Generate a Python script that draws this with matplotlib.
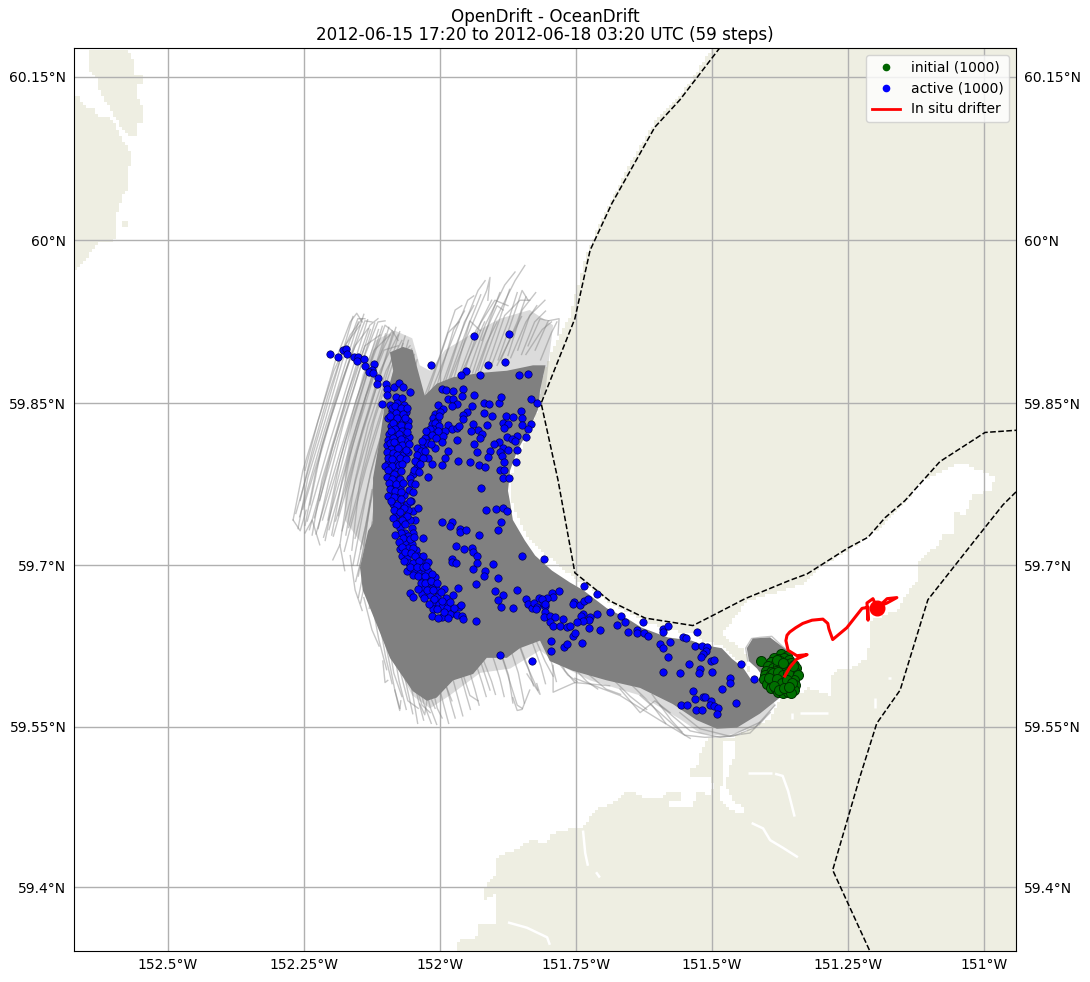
import numpy as np
import matplotlib
matplotlib.use("Agg")
import matplotlib.pyplot as plt
from matplotlib.colors import ListedColormap
from matplotlib.lines import Line2D
from matplotlib.path import Path

# Limits and ticks
lon_limits = (-152.6728, -150.941)
lat_limits = (59.3402, 60.1765)
lon_ticks = [-152.5, -152.25, -152.0, -151.75, -151.5, -151.25, -151.0]
lon_labels = ["152.5°W", "152.25°W", "152°W", "151.75°W", "151.5°W", "151.25°W", "151°W"]
lat_ticks = [59.4, 59.55, 59.7, 59.85, 60.0, 60.15]
lat_labels = ["59.4°N", "59.55°N", "59.7°N", "59.85°N", "60°N", "60.15°N"]

# Land outlines (lon, lat)
land_main = [(-151.482,60.19),(-150.93,60.19),(-150.93,59.33),(-151.971,59.33),(-151.971,59.344),(-151.963,59.352),(-151.932,59.353),(-151.928,59.364),(-151.895,59.366),(-151.895,59.376),(-151.899,59.394),(-151.921,59.387),(-151.921,59.395),(-151.908,59.407),(-151.895,59.411),(-151.895,59.427),(-151.875,59.432),(-151.853,59.437),(-151.835,59.444),(-151.803,59.441),(-151.798,59.449),(-151.756,59.455),(-151.737,59.456),(-151.715,59.472),(-151.691,59.477),(-151.669,59.483),(-151.656,59.489),(-151.640,59.489),(-151.627,59.483),(-151.590,59.483),(-151.581,59.489),(-151.559,59.489),(-151.557,59.479),(-151.577,59.479),(-151.577,59.474),(-151.535,59.474),(-151.528,59.489),(-151.500,59.486),(-151.498,59.493),(-151.500,59.503),(-151.540,59.503),(-151.540,59.510),(-151.522,59.514),(-151.522,59.525),(-151.504,59.540),(-151.458,59.540),(-151.430,59.548),(-151.393,59.556),(-151.381,59.568),(-151.375,59.574),(-151.362,59.577),(-151.344,59.581),(-151.329,59.582),(-151.325,59.586),(-151.283,59.579),(-151.281,59.597),(-151.270,59.602),(-151.241,59.605),(-151.215,59.614),(-151.210,59.630),(-151.210,59.649),(-151.158,59.658),(-151.145,59.672),(-151.123,59.686),(-151.121,59.702),(-151.105,59.711),(-151.085,59.719),(-151.077,59.730),(-151.057,59.730),(-151.057,59.751),(-151.039,59.745),(-151.030,59.754),(-151.020,59.765),(-150.984,59.769),(-150.980,59.781),(-151.007,59.788),(-151.044,59.795),(-151.068,59.790),(-151.118,59.776),(-151.142,59.760),(-151.197,59.733),(-151.250,59.714),(-151.302,59.698),(-151.333,59.683),(-151.436,59.666),(-151.458,59.651),(-151.480,59.637),(-151.476,59.633),(-151.439,59.621),(-151.434,59.607),(-151.425,59.595),(-151.443,59.609),(-151.463,59.616),(-151.482,59.625),(-151.517,59.630),(-151.535,59.637),(-151.577,59.639),(-151.627,59.649),(-151.651,59.655),(-151.688,59.665),(-151.724,59.678),(-151.737,59.682),(-151.770,59.695),(-151.798,59.707),(-151.835,59.723),(-151.857,59.743),(-151.868,59.760),(-151.871,59.769),(-151.866,59.788),(-151.853,59.806),(-151.835,59.825),(-151.822,59.844),(-151.811,59.878),(-151.789,59.904),(-151.761,59.931),(-151.733,59.986),(-151.700,60.023),(-151.647,60.073),(-151.610,60.105),(-151.544,60.142)]
land_island = [(-152.649,60.175),(-152.575,60.175),(-152.564,60.166),(-152.561,60.152),(-152.544,60.152),(-152.544,60.144),(-152.555,60.144),(-152.555,60.129),(-152.548,60.122),(-152.548,60.108),(-152.555,60.106),(-152.555,60.095),(-152.566,60.095),(-152.583,60.103),(-152.597,60.112),(-152.607,60.122),(-152.619,60.131),(-152.630,60.144),(-152.630,60.149),(-152.643,60.156),(-152.643,60.172)]
land_west = [(-152.68,60.135),(-152.664,60.133),(-152.656,60.123),(-152.634,60.122),(-152.630,60.114),(-152.603,60.111),(-152.588,60.098),(-152.586,60.090),(-152.575,60.089),(-152.568,60.076),(-152.568,60.069),(-152.573,60.067),(-152.573,60.048),(-152.586,60.040),(-152.588,60.032),(-152.594,60.026),(-152.594,60.011),(-152.597,60.003),(-152.601,59.999),(-152.616,59.999),(-152.630,59.998),(-152.634,59.993),(-152.649,59.985),(-152.662,59.977),(-152.671,59.973),(-152.68,59.973)]
land_islet = [(-152.586,60.019),(-152.573,60.019),(-152.573,60.011),(-152.586,60.011)]
water_channel = [(-151.482,59.537),(-151.458,59.537),(-151.458,59.523),(-151.469,59.511),(-151.474,59.493),(-151.461,59.481),(-151.439,59.472),(-151.443,59.468),(-151.467,59.472),(-151.485,59.483),(-151.482,59.495),(-151.480,59.511),(-151.482,59.523)]

# Small rivers and inlets cut through the land
rivers = [
    [(-151.434,59.507),(-151.390,59.507)],
    [(-151.384,59.506),(-151.370,59.504),(-151.360,59.490),(-151.348,59.466)],
    [(-151.427,59.460),(-151.406,59.455),(-151.393,59.444),(-151.370,59.437),(-151.342,59.428)],
    [(-151.737,59.453),(-151.733,59.432),(-151.728,59.420)],
    [(-151.713,59.414),(-151.706,59.409)],
    [(-151.875,59.367),(-151.840,59.362),(-151.803,59.353),(-151.798,59.346)],
    [(-151.338,59.563),(-151.287,59.563)],
    [(-151.353,59.563),(-151.353,59.557)],
    [(-151.200,59.577),(-151.200,59.567)],
    [(-151.177,59.595),(-151.170,59.595)],
]

# Dashed coastline
shore_1 = [(-151.485,60.177),(-151.559,60.129),(-151.605,60.104),(-151.684,60.034),(-151.724,59.991),(-151.752,59.928),(-151.814,59.850),(-151.783,59.779),(-151.752,59.693),(-151.688,59.667),(-151.623,59.651),(-151.535,59.644),(-151.500,59.653),(-151.439,59.669),(-151.357,59.686),(-151.325,59.692),(-151.250,59.716),(-151.213,59.726),(-151.182,59.744),(-151.145,59.760),(-151.081,59.796),(-150.998,59.823),(-150.941,59.825)]
shore_2 = [(-150.941,59.768),(-150.965,59.756),(-151.017,59.723),(-151.103,59.668),(-151.154,59.584),(-151.197,59.553),(-151.228,59.503),(-151.278,59.416),(-151.206,59.336)]

# Outline of the area where the tracks merge into solid grey, and the thinner fringe
tracks_dense = [(-152.123,59.739),(-152.123,59.781),(-152.110,59.819),(-152.101,59.850),(-152.086,59.880),(-152.092,59.897),(-152.068,59.902),(-152.050,59.899),(-152.042,59.883),(-152.028,59.857),(-152.006,59.868),(-151.976,59.874),(-151.926,59.878),(-151.877,59.880),(-151.829,59.885),(-151.806,59.885),(-151.816,59.862),(-151.820,59.844),(-151.835,59.827),(-151.858,59.806),(-151.871,59.788),(-151.875,59.769),(-151.871,59.758),(-151.866,59.742),(-151.844,59.723),(-151.825,59.709),(-151.794,59.695),(-151.761,59.684),(-151.737,59.677),(-151.693,59.660),(-151.654,59.650),(-151.629,59.642),(-151.581,59.633),(-151.537,59.630),(-151.517,59.626),(-151.482,59.623),(-151.463,59.613),(-151.443,59.605),(-151.427,59.593),(-151.404,59.595),(-151.417,59.604),(-151.432,59.611),(-151.436,59.623),(-151.425,59.632),(-151.393,59.633),(-151.362,59.621),(-151.344,59.611),(-151.348,59.593),(-151.375,59.577),(-151.412,59.562),(-151.454,59.549),(-151.491,59.548),(-151.528,59.556),(-151.572,59.571),(-151.632,59.586),(-151.693,59.593),(-151.756,59.602),(-151.798,59.611),(-151.816,59.630),(-151.853,59.623),(-151.877,59.614),(-151.914,59.614),(-151.939,59.599),(-151.976,59.593),(-152.006,59.577),(-152.024,59.574),(-152.050,59.583),(-152.092,59.614),(-152.110,59.637),(-152.142,59.677),(-152.147,59.698),(-152.132,59.732)]
tracks_fringe = [(-152.175,59.742),(-152.175,59.788),(-152.162,59.834),(-152.143,59.876),(-152.119,59.908),(-152.083,59.917),(-152.051,59.910),(-152.037,59.885),(-152.018,59.880),(-151.991,59.899),(-151.945,59.913),(-151.890,59.928),(-151.835,59.936),(-151.792,59.922),(-151.798,59.897),(-151.807,59.857),(-151.926,59.806),(-152.074,59.667),(-152.114,59.658),(-152.088,59.616),(-152.051,59.579),(-152.018,59.567),(-151.982,59.579),(-151.926,59.600),(-151.871,59.604),(-151.816,59.621),(-151.779,59.607),(-151.724,59.593),(-151.632,59.579),(-151.559,59.557),(-151.522,59.544),(-151.476,59.541),(-151.412,59.551),(-151.384,59.570),(-151.393,59.583),(-151.890,59.667),(-152.123,59.705)]

# Individual tracks that stand out from the solid area
tracks_nw = [
    [(-152.270,59.742),(-152.252,59.788),(-152.221,59.839),(-152.193,59.888),(-152.165,59.925),(-152.153,59.933),(-152.143,59.925)],
    [(-152.261,59.734),(-152.243,59.781),(-152.211,59.834),(-152.180,59.888),(-152.151,59.928),(-152.138,59.928)],
    [(-152.248,59.737),(-152.228,59.788),(-152.199,59.839),(-152.165,59.891),(-152.138,59.926),(-152.125,59.925)],
    [(-152.235,59.728),(-152.217,59.779),(-152.187,59.830),(-152.154,59.885),(-152.129,59.922),(-152.114,59.928)],
    [(-152.224,59.734),(-152.202,59.783),(-152.175,59.836),(-152.143,59.888),(-152.114,59.925),(-152.101,59.926)],
    [(-152.211,59.723),(-152.193,59.769),(-152.165,59.825),(-152.132,59.880),(-152.101,59.922),(-152.088,59.917)],
    [(-152.199,59.728),(-152.180,59.779),(-152.153,59.830),(-152.119,59.885),(-152.088,59.917),(-152.077,59.908)],
    [(-152.184,59.719),(-152.169,59.769),(-152.143,59.825),(-152.110,59.880),(-152.077,59.913)],
    [(-152.173,59.728),(-152.156,59.779),(-152.132,59.830),(-152.099,59.880),(-152.070,59.908)],
    [(-152.162,59.714),(-152.147,59.779),(-152.121,59.834),(-152.088,59.885),(-152.055,59.903)],
    [(-152.257,59.760),(-152.235,59.806),(-152.206,59.857),(-152.175,59.903),(-152.147,59.922)],
    [(-152.239,59.756),(-152.217,59.811),(-152.187,59.862),(-152.156,59.903),(-152.132,59.919)],
    [(-152.221,59.760),(-152.199,59.806),(-152.169,59.860),(-152.138,59.903),(-152.110,59.913)],
    [(-152.248,59.788),(-152.224,59.834),(-152.195,59.880),(-152.165,59.913),(-152.143,59.928)],
    [(-152.206,59.742),(-152.184,59.797),(-152.154,59.853),(-152.121,59.899),(-152.092,59.913)],
    [(-152.187,59.746),(-152.165,59.802),(-152.136,59.857),(-152.103,59.899),(-152.077,59.903)],
    [(-152.270,59.742),(-152.257,59.732),(-152.246,59.751)],
    [(-152.248,59.730),(-152.235,59.742),(-152.221,59.719)],
    [(-152.197,59.705),(-152.184,59.719),(-152.175,59.695)],
    [(-152.165,59.709),(-152.156,59.677),(-152.143,59.658)],
    [(-152.265,59.748),(-152.225,59.818),(-152.160,59.930)],
    [(-152.258,59.745),(-152.214,59.822),(-152.150,59.925)],
    [(-152.252,59.752),(-152.208,59.825),(-152.140,59.932)],
    [(-152.244,59.741),(-152.202,59.815),(-152.133,59.927)],
    [(-152.240,59.733),(-152.196,59.812),(-152.128,59.918)],
    [(-152.231,59.744),(-152.188,59.818),(-152.120,59.924)],
    [(-152.228,59.729),(-152.182,59.808),(-152.113,59.918)],
    [(-152.216,59.742),(-152.172,59.818),(-152.106,59.921)],
    [(-152.214,59.726),(-152.168,59.806),(-152.100,59.914)],
    [(-152.204,59.733),(-152.160,59.812),(-152.094,59.920)],
    [(-152.196,59.727),(-152.152,59.806),(-152.086,59.916)],
    [(-152.192,59.741),(-152.149,59.815),(-152.081,59.920)],
    [(-152.180,59.732),(-152.140,59.806),(-152.074,59.916)],
    [(-152.176,59.713),(-152.136,59.790),(-152.068,59.905)],
    [(-152.168,59.735),(-152.128,59.810),(-152.064,59.912)],
    [(-152.160,59.700),(-152.128,59.785),(-152.062,59.900)],
    [(-152.156,59.725),(-152.120,59.800),(-152.058,59.908)],
    [(-152.150,59.690),(-152.122,59.775),(-152.055,59.892)],
    [(-152.146,59.715),(-152.114,59.790),(-152.052,59.900)],
    [(-152.140,59.680),(-152.118,59.765),(-152.050,59.885)],
    [(-152.136,59.700),(-152.108,59.782),(-152.047,59.895)],
    [(-152.130,59.660),(-152.112,59.750),(-152.045,59.878)],
    [(-152.124,59.690),(-152.104,59.775),(-152.042,59.890)],
    [(-152.128,59.760),(-152.140,59.715),(-152.155,59.685)],
    [(-152.124,59.740),(-152.138,59.700),(-152.150,59.670)],
    [(-152.120,59.725),(-152.135,59.690),(-152.146,59.665)],
    [(-152.125,59.770),(-152.137,59.735),(-152.152,59.700)],
]
tracks_north = [
    [(-152.028,59.857),(-152.000,59.894),(-151.972,59.936),(-151.960,59.940)],
    [(-152.015,59.862),(-151.982,59.903),(-151.949,59.945),(-151.938,59.949)],
    [(-151.996,59.867),(-151.967,59.908),(-151.930,59.954),(-151.917,59.963)],
    [(-151.982,59.871),(-151.949,59.913),(-151.914,59.954),(-151.908,59.966),(-151.912,59.945)],
    [(-151.967,59.873),(-151.934,59.917),(-151.899,59.945),(-151.875,59.940)],
    [(-151.949,59.876),(-151.917,59.922),(-151.881,59.959),(-151.862,59.971)],
    [(-151.930,59.880),(-151.899,59.926),(-151.862,59.963),(-151.844,59.977)],
    [(-151.912,59.885),(-151.881,59.931),(-151.853,59.945),(-151.835,59.945)],
    [(-151.893,59.890),(-151.868,59.926),(-151.849,59.954),(-151.838,59.945)],
    [(-151.875,59.894),(-151.849,59.936),(-151.824,59.952)],
    [(-151.857,59.899),(-151.835,59.931),(-151.807,59.945)],
    [(-151.838,59.903),(-151.816,59.928),(-151.800,59.926)],
    [(-151.825,59.899),(-151.801,59.926),(-151.781,59.928),(-151.783,59.913)],
    [(-151.991,59.862),(-151.945,59.926),(-151.926,59.917)],
    [(-151.923,59.908),(-151.895,59.940),(-151.884,59.936)],
    [(-152.022,59.860),(-151.985,59.915),(-151.965,59.925)],
    [(-152.008,59.862),(-151.975,59.918),(-151.955,59.935)],
    [(-151.990,59.870),(-151.955,59.925),(-151.938,59.940)],
    [(-151.975,59.872),(-151.945,59.925),(-151.925,59.950)],
    [(-151.958,59.875),(-151.925,59.925),(-151.905,59.945)],
    [(-151.940,59.878),(-151.908,59.928),(-151.890,59.952)],
    [(-151.925,59.880),(-151.892,59.925),(-151.872,59.955)],
    [(-151.905,59.885),(-151.875,59.925),(-151.858,59.952)],
    [(-151.888,59.890),(-151.858,59.925),(-151.842,59.948)],
    [(-151.870,59.892),(-151.842,59.925),(-151.822,59.940)],
    [(-151.850,59.895),(-151.826,59.925),(-151.806,59.935)],
    [(-151.842,59.895),(-151.812,59.918),(-151.795,59.925)],
    [(-151.815,59.890),(-151.795,59.915),(-151.785,59.925)],
    [(-151.965,59.873),(-151.940,59.900),(-151.918,59.925)],
    [(-151.935,59.878),(-151.915,59.905),(-151.895,59.925)],
    [(-151.895,59.885),(-151.870,59.910),(-151.850,59.930)],
]
tracks_south = [
    [(-152.123,59.677),(-152.101,59.630),(-152.083,59.584),(-152.074,59.567)],
    [(-152.101,59.667),(-152.083,59.621),(-152.059,59.574),(-152.040,59.567)],
    [(-152.083,59.658),(-152.059,59.611),(-152.033,59.570),(-152.018,59.563)],
    [(-152.055,59.649),(-152.037,59.602),(-152.009,59.567)],
    [(-152.018,59.649),(-152.000,59.602),(-151.978,59.574)],
    [(-151.982,59.649),(-151.963,59.607),(-151.945,59.579),(-151.930,59.574)],
    [(-151.945,59.649),(-151.923,59.607),(-151.908,59.584)],
    [(-151.908,59.649),(-151.881,59.607),(-151.858,59.570),(-151.849,59.567)],
    [(-151.871,59.649),(-151.844,59.611),(-151.820,59.584)],
    [(-151.835,59.644),(-151.807,59.611),(-151.792,59.597)],
    [(-151.798,59.630),(-151.770,59.602),(-151.752,59.591)],
    [(-151.792,59.607),(-151.792,59.582),(-151.752,59.591),(-151.688,59.588)],
    [(-151.669,59.585),(-151.632,59.563),(-151.605,59.574),(-151.577,59.563)],
    [(-151.632,59.579),(-151.596,59.563),(-151.550,59.542),(-151.513,59.540),(-151.461,59.541),(-151.421,59.549),(-151.384,59.570)],
    [(-151.596,59.570),(-151.540,59.546),(-151.485,59.540),(-151.430,59.544),(-151.393,59.563)],
    [(-151.559,59.563),(-151.522,59.548),(-151.467,59.541),(-151.412,59.554)],
    [(-151.752,59.595),(-151.669,59.579),(-151.596,59.556),(-151.540,59.539)],
    [(-152.105,59.611),(-152.101,59.591),(-152.096,59.593)],
    [(-152.083,59.584),(-152.074,59.565),(-152.072,59.574)],
    [(-152.037,59.571),(-152.028,59.561),(-152.024,59.574)],
    [(-151.866,59.577),(-151.858,59.565),(-151.849,59.566),(-151.835,59.584)],
    [(-151.840,59.599),(-151.816,59.580),(-151.822,59.590)],
    [(-151.434,59.611),(-151.438,59.623),(-151.427,59.632),(-151.412,59.633),(-151.390,59.634),(-151.371,59.625),(-151.357,59.619)],
    [(-151.430,59.616),(-151.421,59.629),(-151.397,59.630),(-151.366,59.621)],
    [(-152.140,59.670),(-152.125,59.640),(-152.112,59.625)],
    [(-152.125,59.665),(-152.112,59.630),(-152.098,59.603)],
    [(-152.112,59.650),(-152.100,59.615),(-152.088,59.590)],
    [(-152.098,59.640),(-152.085,59.600),(-152.070,59.578)],
    [(-152.088,59.630),(-152.075,59.592),(-152.062,59.566)],
    [(-152.075,59.620),(-152.060,59.585),(-152.050,59.562)],
    [(-152.065,59.615),(-152.050,59.580),(-152.041,59.553)],
    [(-152.055,59.610),(-152.040,59.575),(-152.030,59.556)],
    [(-152.045,59.605),(-152.030,59.572),(-152.016,59.553)],
    [(-152.033,59.600),(-152.018,59.568),(-152.006,59.552)],
    [(-152.020,59.600),(-152.005,59.567),(-151.996,59.558)],
    [(-152.008,59.600),(-151.993,59.570),(-151.984,59.553)],
    [(-151.995,59.600),(-151.980,59.572),(-151.972,59.558)],
    [(-151.982,59.605),(-151.966,59.575),(-151.958,59.560)],
    [(-151.968,59.610),(-151.952,59.580),(-151.944,59.566)],
    [(-151.952,59.612),(-151.936,59.585),(-151.928,59.570)],
    [(-151.938,59.615),(-151.922,59.590),(-151.915,59.578)],
    [(-151.924,59.617),(-151.905,59.592),(-151.898,59.580)],
    [(-151.906,59.620),(-151.890,59.595),(-151.882,59.578)],
    [(-151.890,59.622),(-151.874,59.598),(-151.866,59.572)],
    [(-151.872,59.625),(-151.856,59.600),(-151.845,59.572)],
    [(-151.855,59.628),(-151.838,59.605),(-151.828,59.588)],
    [(-151.835,59.635),(-151.815,59.607),(-151.806,59.590)],
    [(-151.818,59.638),(-151.795,59.610),(-151.786,59.592)],
    [(-151.790,59.615),(-151.765,59.598),(-151.748,59.592)],
    [(-151.760,59.608),(-151.730,59.592),(-151.710,59.585)],
    [(-151.730,59.600),(-151.695,59.585),(-151.668,59.580)],
    [(-151.690,59.598),(-151.650,59.578),(-151.620,59.566)],
    [(-151.650,59.590),(-151.610,59.570),(-151.585,59.553)],
    [(-151.610,59.580),(-151.575,59.556),(-151.555,59.545)],
]

# Final positions
active_string = [(-152.202,59.895),(-152.187,59.893),(-152.178,59.899),(-152.173,59.900),(-152.171,59.895),(-152.158,59.893),(-152.151,59.893),(-152.153,59.889),(-152.140,59.891),(-152.138,59.884),(-152.121,59.886),(-152.125,59.881),(-152.131,59.879),(-152.123,59.878),(-152.114,59.873),(-152.116,59.868),(-152.099,59.868),(-152.097,59.863),(-152.097,59.858),(-152.085,59.865),(-152.075,59.869),(-152.068,59.865),(-152.055,59.860),(-152.107,59.849),(-152.081,59.856),(-152.070,59.855)]
active_north = [(-151.938,59.912),(-151.873,59.914),(-152.017,59.885),(-151.912,59.885),(-151.881,59.888),(-151.952,59.880),(-151.961,59.876),(-151.926,59.876),(-151.855,59.876),(-151.838,59.877),(-151.996,59.863),(-151.989,59.862),(-151.976,59.861),(-151.958,59.863),(-151.960,59.857),(-151.938,59.858),(-151.985,59.854),(-151.976,59.854),(-151.969,59.849),(-151.978,59.847),(-152.004,59.848),(-151.995,59.845),(-151.941,59.847),(-151.919,59.850),(-151.910,59.849),(-151.892,59.850),(-151.888,59.856),(-151.833,59.854),(-151.822,59.850),(-151.851,59.843),(-151.849,59.836),(-151.919,59.841),(-151.904,59.838),(-151.879,59.838),(-151.866,59.837),(-151.950,59.842),(-151.958,59.839),(-151.958,59.835),(-151.884,59.832),(-151.875,59.831),(-151.883,59.827),(-151.849,59.830),(-151.833,59.831),(-151.838,59.826),(-151.914,59.830),(-151.939,59.831),(-151.930,59.825),(-151.923,59.822),(-151.943,59.824),(-151.926,59.818),(-151.858,59.820),(-151.842,59.819),(-151.877,59.819),(-151.868,59.817),(-151.862,59.815),(-151.892,59.814),(-151.901,59.812),(-151.884,59.809),(-151.875,59.807),(-151.858,59.807),(-151.908,59.806),(-151.890,59.805),(-151.886,59.801),(-151.912,59.800),(-151.883,59.796),(-151.860,59.796),(-151.938,59.812),(-151.932,59.805),(-151.945,59.796),(-151.928,59.793),(-151.917,59.791),(-151.967,59.797),(-151.969,59.816),(-151.890,59.788),(-151.882,59.788),(-151.884,59.781),(-151.873,59.781),(-151.925,59.772),(-151.915,59.751),(-151.897,59.752),(-151.884,59.753),(-151.877,59.750),(-151.888,59.740),(-151.893,59.733),(-151.928,59.728),(-151.996,59.740),(-151.978,59.740),(-151.982,59.736),(-151.963,59.734),(-151.963,59.731),(-151.952,59.733)]
active_branch = [(-152.009,59.840),(-152.000,59.842),(-152.013,59.836),(-152.006,59.834),(-152.015,59.831),(-152.006,59.829),(-151.985,59.830),(-151.978,59.826),(-151.969,59.827),(-151.965,59.829),(-151.991,59.824),(-151.995,59.820),(-151.996,59.814),(-152.022,59.820),(-152.028,59.818),(-152.031,59.811),(-152.042,59.809),(-152.009,59.809),(-151.985,59.806),(-151.991,59.799),(-151.996,59.793),(-152.033,59.805),(-152.037,59.800),(-152.022,59.799),(-152.015,59.794),(-152.040,59.795),(-152.042,59.791),(-152.022,59.782),(-152.050,59.785),(-152.055,59.781),(-152.002,59.838),(-152.010,59.832),(-152.001,59.829),(-152.012,59.826),(-152.019,59.826),(-152.003,59.824),(-152.026,59.824),(-152.015,59.821),(-152.008,59.818),(-152.024,59.813),(-152.017,59.812),(-152.033,59.815),(-152.035,59.806),(-152.028,59.806),(-152.042,59.802),(-152.031,59.799),(-152.046,59.797),(-152.036,59.794),(-152.047,59.788),(-152.038,59.786),(-152.053,59.776),(-152.045,59.775),(-152.057,59.770),(-152.049,59.768),(-152.053,59.760),(-152.049,59.750),(-152.046,59.742)]
active_column = [(-152.092,59.848),(-152.079,59.850),(-152.066,59.848),(-152.088,59.843),(-152.074,59.842),(-152.062,59.842),(-152.096,59.836),(-152.085,59.834),(-152.070,59.835),(-152.059,59.834),(-152.090,59.829),(-152.077,59.828),(-152.064,59.827),(-152.094,59.822),(-152.081,59.820),(-152.068,59.821),(-152.057,59.819),(-152.096,59.816),(-152.077,59.814),(-152.064,59.815),(-152.097,59.811),(-152.083,59.808),(-152.074,59.805),(-152.092,59.802),(-152.096,59.795),(-152.081,59.797),(-152.068,59.802),(-152.083,59.790),(-152.092,59.786),(-152.079,59.781),(-152.086,59.775),(-152.074,59.772),(-152.088,59.768),(-152.077,59.763),(-152.066,59.765),(-152.059,59.805),(-152.086,59.757),(-152.074,59.756),(-152.061,59.757),(-152.055,59.760),(-152.081,59.747),(-152.066,59.745),(-152.059,59.751),(-152.040,59.753),(-152.077,59.739),(-152.074,59.735),(-152.055,59.742),(-152.051,59.735),(-152.064,59.730),(-152.050,59.730),(-152.031,59.725),(-152.064,59.721),(-152.051,59.720),(-152.059,59.716),(-152.044,59.714),(-152.074,59.715),(-152.070,59.709),(-152.061,59.707),(-152.057,59.702),(-152.061,59.695),(-152.040,59.709),(-152.031,59.709),(-152.042,59.705),(-152.033,59.702),(-152.022,59.703),(-152.046,59.695),(-152.037,59.693),(-152.028,59.694),(-152.022,59.695),(-152.033,59.688),(-152.022,59.688),(-152.009,59.689),(-152.024,59.681),(-152.011,59.683),(-152.031,59.679),(-152.017,59.678),(-152.006,59.677),(-151.993,59.678),(-152.055,59.674),(-152.050,59.671),(-152.033,59.673),(-152.018,59.672),(-152.006,59.671),(-151.989,59.670),(-151.976,59.672),(-152.013,59.666),(-152.002,59.664),(-151.989,59.664),(-152.013,59.659),(-151.996,59.661),(-151.987,59.660),(-151.978,59.656),(-151.996,59.652),(-151.982,59.655),(-151.969,59.654),(-151.960,59.653),(-151.958,59.650),(-151.934,59.648),(-151.965,59.661),(-151.961,59.663),(-151.967,59.679)]
active_column_2 = [(-152.089,59.846),(-152.083,59.847),(-152.072,59.846),(-152.060,59.846),(-152.081,59.841),(-152.068,59.840),(-152.092,59.838),(-152.079,59.836),(-152.064,59.836),(-152.087,59.832),(-152.072,59.830),(-152.058,59.829),(-152.083,59.826),(-152.070,59.824),(-152.090,59.824),(-152.076,59.822),(-152.061,59.823),(-152.087,59.818),(-152.072,59.817),(-152.092,59.813),(-152.085,59.814),(-152.070,59.811),(-152.057,59.812),(-152.090,59.808),(-152.077,59.809),(-152.063,59.807),(-152.098,59.805),(-152.086,59.804),(-152.079,59.802),(-152.095,59.799),(-152.088,59.798),(-152.074,59.799),(-152.062,59.798),(-152.101,59.792),(-152.089,59.792),(-152.076,59.793),(-152.069,59.794),(-152.096,59.788),(-152.084,59.785),(-152.072,59.787),(-152.098,59.782),(-152.088,59.780),(-152.074,59.780),(-152.094,59.776),(-152.080,59.775),(-152.068,59.776),(-152.092,59.771),(-152.082,59.769),(-152.071,59.768),(-152.095,59.764),(-152.084,59.763),(-152.072,59.761),(-152.090,59.760),(-152.079,59.756),(-152.067,59.753),(-152.085,59.751),(-152.073,59.749),(-152.060,59.746),(-152.087,59.744),(-152.070,59.742),(-152.080,59.738),(-152.064,59.738),(-152.072,59.730),(-152.082,59.728),(-152.058,59.727),(-152.068,59.725),(-152.075,59.722),(-152.056,59.724),(-152.047,59.726),(-152.069,59.717),(-152.050,59.716),(-152.064,59.712),(-152.054,59.711),(-152.046,59.709),(-152.066,59.704),(-152.050,59.702),(-152.038,59.704),(-152.055,59.698),(-152.042,59.698),(-152.032,59.698),(-152.025,59.699),(-152.050,59.691),(-152.040,59.690),(-152.028,59.690),(-152.015,59.692),(-152.035,59.684),(-152.027,59.684),(-152.017,59.685),(-152.005,59.684),(-152.040,59.678),(-152.024,59.677),(-152.012,59.677),(-151.998,59.675),(-152.030,59.670),(-152.011,59.669),(-151.996,59.667),(-151.982,59.666),(-152.020,59.664),(-152.006,59.659),(-151.992,59.657),(-152.015,59.653),(-152.003,59.651),(-151.975,59.660),(-151.985,59.651)]
active_middle = [(-151.842,59.669),(-151.838,59.664),(-151.831,59.660),(-151.827,59.665),(-151.822,59.661),(-151.824,59.659),(-151.818,59.670),(-151.811,59.665),(-151.805,59.669),(-151.807,59.662),(-151.794,59.674),(-151.792,59.671),(-151.781,59.676),(-151.807,59.657),(-151.809,59.652),(-151.798,59.653),(-151.789,59.652),(-151.774,59.650),(-151.798,59.647),(-151.792,59.644),(-151.779,59.644),(-151.767,59.643),(-151.971,59.718),(-151.956,59.715),(-151.941,59.716),(-151.939,59.712),(-151.932,59.709),(-151.932,59.702),(-151.939,59.697),(-151.917,59.695),(-151.903,59.701),(-151.849,59.709),(-151.809,59.706),(-151.978,59.706),(-151.978,59.703),(-151.971,59.702),(-151.919,59.690),(-151.893,59.688),(-151.934,59.683),(-151.899,59.676),(-151.858,59.677),(-151.884,59.672),(-151.893,59.668),(-151.888,59.661),(-151.866,59.660),(-151.890,59.617),(-151.831,59.611),(-151.796,59.630),(-151.796,59.620),(-151.772,59.624),(-151.767,59.627)]
active_east = [(-151.735,59.681),(-151.711,59.673),(-151.803,59.670),(-151.813,59.669),(-151.807,59.664),(-151.754,59.666),(-151.756,59.664),(-151.743,59.663),(-151.735,59.667),(-151.728,59.669),(-151.688,59.657),(-151.667,59.653),(-151.737,59.655),(-151.741,59.653),(-151.711,59.655),(-151.724,59.652),(-151.726,59.649),(-151.737,59.648),(-151.748,59.647),(-151.761,59.644),(-151.706,59.640),(-151.726,59.642),(-151.675,59.645),(-151.660,59.647),(-151.627,59.647),(-151.654,59.638),(-151.638,59.640),(-151.638,59.637),(-151.625,59.637),(-151.618,59.634),(-151.590,59.641),(-151.581,59.644),(-151.590,59.638),(-151.528,59.638),(-151.553,59.633),(-151.548,59.632),(-151.577,59.629),(-151.596,59.627),(-151.590,59.623),(-151.581,59.615),(-151.531,59.625),(-151.518,59.625),(-151.509,59.624),(-151.511,59.620),(-151.517,59.618),(-151.520,59.615),(-151.502,59.611),(-151.496,59.612),(-151.542,59.608),(-151.447,59.608),(-151.590,59.601),(-151.559,59.600),(-151.522,59.604),(-151.524,59.600),(-151.500,59.601),(-151.423,59.594),(-151.467,59.595),(-151.467,59.591),(-151.482,59.585),(-151.535,59.583),(-151.531,59.576),(-151.517,59.578),(-151.513,59.578),(-151.502,59.574),(-151.504,59.570),(-151.496,59.569),(-151.489,59.567),(-151.491,59.562),(-151.456,59.572),(-151.557,59.570),(-151.546,59.570),(-151.529,59.565),(-151.518,59.565),(-151.756,59.634),(-151.752,59.637),(-151.739,59.628)]

# Seeding positions
initial = [(-151.410,59.611),(-151.373,59.618),(-151.362,59.616),(-151.386,59.614),(-151.377,59.613),(-151.367,59.614),(-151.358,59.612),(-151.392,59.610),(-151.383,59.609),(-151.374,59.611),(-151.365,59.608),(-151.355,59.609),(-151.349,59.607),(-151.397,59.606),(-151.388,59.605),(-151.379,59.606),(-151.370,59.604),(-151.361,59.605),(-151.352,59.603),(-151.345,59.605),(-151.400,59.602),(-151.391,59.601),(-151.382,59.602),(-151.373,59.600),(-151.364,59.601),(-151.355,59.599),(-151.347,59.601),(-151.402,59.598),(-151.393,59.597),(-151.384,59.598),(-151.375,59.596),(-151.366,59.597),(-151.357,59.595),(-151.348,59.597),(-151.341,59.598),(-151.404,59.594),(-151.394,59.593),(-151.385,59.594),(-151.376,59.592),(-151.367,59.593),(-151.358,59.591),(-151.349,59.593),(-151.399,59.590),(-151.390,59.589),(-151.381,59.590),(-151.372,59.588),(-151.363,59.589),(-151.354,59.587),(-151.347,59.589),(-151.392,59.586),(-151.383,59.585),(-151.374,59.586),(-151.365,59.584),(-151.356,59.585),(-151.349,59.584),(-151.379,59.582),(-151.370,59.581),(-151.361,59.582),(-151.354,59.581),(-151.380,59.612),(-151.369,59.609),(-151.388,59.600),(-151.378,59.601),(-151.369,59.598),(-151.360,59.600),(-151.351,59.606),(-151.395,59.595),(-151.380,59.594),(-151.371,59.591),(-151.362,59.593),(-151.353,59.591),(-151.386,59.588),(-151.377,59.584),(-151.368,59.586),(-151.359,59.587)]

# In situ drifter
drifter = [(-151.366,59.597),(-151.357,59.605),(-151.344,59.613),(-151.325,59.617),(-151.344,59.616),(-151.360,59.621),(-151.364,59.630),(-151.362,59.635),(-151.357,59.638),(-151.346,59.642),(-151.333,59.646),(-151.316,59.649),(-151.296,59.650),(-151.287,59.646),(-151.285,59.641),(-151.278,59.631),(-151.252,59.642),(-151.224,59.660),(-151.213,59.661),(-151.213,59.649),(-151.215,59.665),(-151.204,59.669),(-151.197,59.661),(-151.178,59.665),(-151.160,59.670),(-151.178,59.669),(-151.197,59.660)]

LAND_COLOR = "#eeeee2"
GREY = "#808080"


def mercator(lat):
    return np.log(np.tan(np.pi / 4 + np.radians(lat) / 2))


def inverse_mercator(y):
    return np.degrees(2 * np.arctan(np.exp(y)) - np.pi / 2)


def draw_line(ax, pts, **kw):
    arr = np.array(pts)
    ax.plot(arr[:, 0], arr[:, 1], **kw)


fig = plt.figure(figsize=(10.9, 9.82), dpi=100)
ax = fig.add_axes([74 / 1090, 31 / 982, 942 / 1090, 903 / 982])
ax.set_yscale("function", functions=(mercator, inverse_mercator))
ax.set_xlim(*lon_limits)
ax.set_ylim(*lat_limits)

# Land mask on a coarse grid, gives the blocky coast
lon_edges = np.arange(lon_limits[0], lon_limits[1] + 0.0055, 0.0055)
lat_edges = np.arange(lat_limits[0], lat_limits[1] + 0.0028, 0.0028)
lon_mid, lat_mid = np.meshgrid(lon_edges[:-1] + 0.00275, lat_edges[:-1] + 0.0014)
cells = np.column_stack([lon_mid.ravel(), lat_mid.ravel()])
is_land = np.zeros(len(cells), dtype=bool)
for outline in [land_main, land_island, land_west, land_islet]:
    is_land |= Path(outline).contains_points(cells)
is_land &= ~Path(water_channel).contains_points(cells)
ax.pcolormesh(lon_edges, lat_edges, np.ma.masked_where(~is_land.reshape(lon_mid.shape), np.ones(lon_mid.shape)),
              cmap=ListedColormap([LAND_COLOR]), antialiased=False, linewidth=0, zorder=0.1)
for river in rivers:
    draw_line(ax, river, color="white", lw=1.8, solid_capstyle="butt", zorder=0.2)

ax.set_axisbelow(True)
ax.grid(True, color="#b0b0b0", lw=1)
ax.set_xticks(lon_ticks)
ax.set_xticklabels(lon_labels)
ax.set_yticks(lat_ticks)
ax.set_yticklabels(lat_labels)
ax.minorticks_off()
ax.tick_params(axis="x", length=0, pad=5, labelsize=10)
ax.tick_params(axis="y", length=0, pad=5.5, labelsize=10, labelleft=True, labelright=True)

draw_line(ax, shore_1, color="k", ls="--", lw=1.1, zorder=1.5)
draw_line(ax, shore_2, color="k", ls="--", lw=1.1, zorder=1.5)

# Tracks
ax.fill(*zip(*tracks_fringe), color=GREY, alpha=0.28, lw=0, zorder=2)
ax.fill(*zip(*tracks_dense), color=GREY, lw=0, zorder=2.05)
for track in tracks_nw + tracks_north + tracks_south:
    draw_line(ax, track, color=GREY, lw=1, alpha=0.45, zorder=2.1)

# Particles
ini = np.array(initial)
ax.scatter(ini[:, 0], ini[:, 1], s=52, c="#007000", edgecolors="#003000", linewidths=0.7, zorder=3)
act = np.array(active_string + active_north + active_branch + active_column + active_column_2 + active_middle + active_east)
ax.scatter(act[:, 0], act[:, 1], s=28, c="#0000ff", edgecolors="#000050", linewidths=0.5, zorder=3.1)

# Drifter
draw_line(ax, drifter, color="r", lw=2.2, zorder=4)
ax.plot(drifter[-1][0], drifter[-1][1], "o", color="r", ms=10.5, zorder=4)

ax.set_title("OpenDrift - OceanDrift\n2012-06-15 17:20 to 2012-06-18 03:20 UTC (59 steps)", fontsize=12.1, linespacing=1.0)
handles = [
    Line2D([], [], ls="none", marker="o", ms=4.5, color="#006400", label="initial (1000)"),
    Line2D([], [], ls="none", marker="o", ms=4.5, color="#0000ff", label="active (1000)"),
    Line2D([], [], color="r", lw=2, label="In situ drifter"),
]
leg = ax.legend(handles=handles, loc="upper right", fontsize=10)
leg.set_zorder(5)

fig.savefig("out.png", dpi=100)
